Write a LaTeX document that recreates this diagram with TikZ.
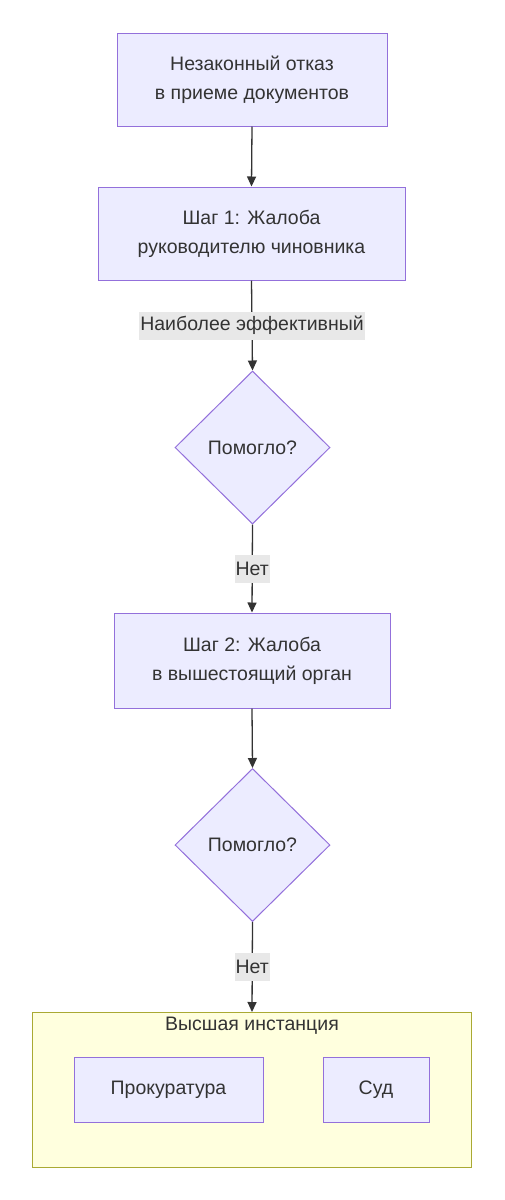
\documentclass[tikz,border=0pt]{standalone}
\usepackage{fontspec}
\setmainfont{Liberation Sans}
\usetikzlibrary{arrows.meta,shapes.geometric}
\definecolor{nodefill}{HTML}{ECECFF}
\definecolor{nodestroke}{HTML}{9370DB}
\definecolor{clfill}{HTML}{FFFFDE}
\definecolor{clstroke}{HTML}{AAAA33}
\definecolor{txt}{HTML}{333333}
\definecolor{lblbg}{HTML}{E8E8E8}
\tikzset{
  x=1pt, y=-1pt,
  every node/.style={text=txt, font=\fontsize{19.5}{29}\selectfont},
  proc/.style={draw=nodestroke, fill=nodefill, line width=1pt, align=center, inner sep=0pt},
  decide/.style={draw=nodestroke, fill=nodefill, line width=1pt, diamond, aspect=1, inner sep=0pt, minimum width=155pt, minimum height=153pt},
  cluster/.style={draw=clstroke, fill=clfill, line width=1pt},
  elabel/.style={fill=lblbg, inner xsep=1pt, inner ysep=0pt, minimum height=28pt},
  conn/.style={draw=txt, line width=1.3pt, -{Triangle[length=10pt,width=9pt]}},
}
\begin{document}
\begin{tikzpicture}
\useasboundingbox (0,0) rectangle (504,1200);
\fill[white] (0,0) rectangle (504,1200);
% cluster
\draw[cluster] (32,1012) rectangle (471,1167);
\node (cltitle) at (252,1026) {Высшая инстанция};
% nodes
\node[proc, minimum width=270pt, minimum height=93pt] (a) at (252,79.5) {Незаконный отказ\\в приеме документов};
\node[proc, minimum width=307pt, minimum height=93pt] (b) at (251.5,233.5) {Шаг 1: Жалоба\\руководителю чиновника};
\node[decide] (c) at (252.5,447.5) {Помогло?};
\node[proc, minimum width=276pt, minimum height=95pt] (d) at (252,660.5) {Шаг 2: Жалоба\\в вышестоящий орган};
\node[decide] (e) at (252.5,845) {Помогло?};
\node[proc, minimum width=189pt, minimum height=65pt] (f) at (168.5,1089.5) {Прокуратура};
\node[proc, minimum width=106pt, minimum height=65pt] (g) at (376,1089.5) {Суд};
\coordinate (clustertop) at (252,1012);
% connectors
\draw[conn] (a.south) -- (b.north);
\draw[conn] (b.south) -- node[elabel] {Наиболее эффективный} (c.north);
\draw[conn] (c.south) -- node[elabel] {Нет} (d.north);
\draw[conn] (d.south) -- (e.north);
\draw[conn] (e.south) -- node[elabel] {Нет} (clustertop);
\end{tikzpicture}
\end{document}
